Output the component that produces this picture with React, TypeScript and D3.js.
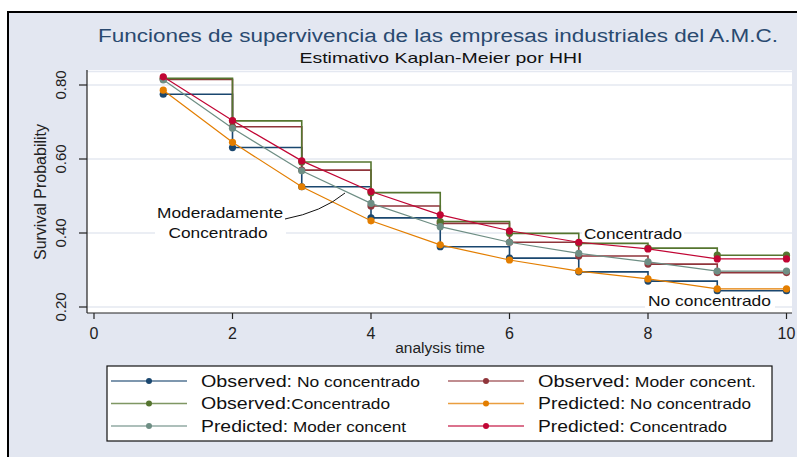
import React from "react";
import * as d3 from "d3";

const times = [1, 2, 3, 4, 5, 6, 7, 8, 9, 10];
const obsNoConc = [0.775, 0.631, 0.525, 0.441, 0.363, 0.332, 0.295, 0.27, 0.244, 0.244];
const obsModer = [0.815, 0.687, 0.57, 0.473, 0.426, 0.375, 0.338, 0.316, 0.293, 0.293];
const obsConc = [0.818, 0.703, 0.592, 0.509, 0.431, 0.399, 0.372, 0.359, 0.34, 0.34];
const predNoConc = [0.786, 0.645, 0.525, 0.433, 0.368, 0.327, 0.297, 0.276, 0.249, 0.249];
const predModer = [0.814, 0.683, 0.568, 0.48, 0.417, 0.375, 0.345, 0.322, 0.297, 0.297];
const predConc = [0.822, 0.704, 0.595, 0.512, 0.449, 0.406, 0.375, 0.357, 0.33, 0.33];

const xTicks = [0, 2, 4, 6, 8, 10];
const yTicks = [0.2, 0.4, 0.6, 0.8];

const series = [
  { key: "obsNoConc", values: obsNoConc, color: "#1a476f", step: true, head: "Observed:", rest: " No concentrado" },
  { key: "obsModer", values: obsModer, color: "#90353b", step: true, head: "Observed:", rest: "  Moder concent." },
  { key: "obsConc", values: obsConc, color: "#55752f", step: true, head: "Observed:", rest: "Concentrado" },
  { key: "predNoConc", values: predNoConc, color: "#e37e00", step: false, head: "Predicted:", rest: " No concentrado" },
  { key: "predModer", values: predModer, color: "#6e8e84", step: false, head: "Predicted:", rest: " Moder concent" },
  { key: "predConc", values: predConc, color: "#c10534", step: false, head: "Predicted:", rest: " Concentrado" },
];

const FONT = "'Liberation Sans Narrow', 'Liberation Sans', Arial, sans-serif";
const FONT2 = "'Liberation Sans', Arial, sans-serif";

export default function App() {
  const W = 797, H = 457;
  const px0 = 87, px1 = 792, py0 = 70, py1 = 313;
  const x = d3.scaleLinear().domain([0, 10]).range([94, 786.5]);
  const y = d3.scaleLinear().domain([0.2, 0.8]).range([307, 85]);

  const mk = (step: boolean) =>
    d3.line<number>()
      .x((_, i) => x(times[i]))
      .y((v) => y(v))
      .curve(step ? d3.curveStepAfter : d3.curveLinear);

  const legendPos = [
    { lx: 111, ty: 381 }, { lx: 448, ty: 381 },
    { lx: 111, ty: 403.5 }, { lx: 448, ty: 403.5 },
    { lx: 111, ty: 426 }, { lx: 448, ty: 426 },
  ];
  const legendWidths = [219, 218, 189, 213, 205, 189];

  return (
    <svg width={W} height={H} style={{ position: "absolute", left: 0, top: 0, display: "block" }}>
      <rect x={0} y={0} width={W} height={H} fill="#ffffff" />
      <rect x={8} y={12} width={800} height={460} fill="#e3e7f1" stroke="#000" strokeWidth={2} />
      {/* titles */}
      <text x={438} y={42} textAnchor="middle" fontFamily={FONT2} fontSize={18} fill="#2a4a70"
        textLength={680} lengthAdjust="spacingAndGlyphs">
        Funciones de supervivencia de las empresas industriales del A.M.C.
      </text>
      <text x={441} y={63} textAnchor="middle" fontFamily={FONT2} fontSize={14.5} fill="#111"
        textLength={283} lengthAdjust="spacingAndGlyphs">
        Estimativo Kaplan-Meier por HHI
      </text>
      {/* plot region */}
      <rect x={px0} y={py0} width={px1 - px0} height={py1 - py0} fill="#ffffff" />
      <line x1={px0} x2={px1} y1={py0 + 1.5} y2={py0 + 1.5} stroke="#e4e8f1" strokeWidth={1.5} />
      {yTicks.map((t) => (
        <line key={"g" + t} x1={px0} x2={px1} y1={y(t)} y2={y(t)} stroke="#e4e8f1" strokeWidth={1.5} />
      ))}
      {/* label backgrounds */}
      <rect x={155} y={204} width={131} height={40} fill="#fff" />
      <rect x={582} y={224} width={102} height={18} fill="#fff" />
      <rect x={645} y={291} width={130} height={19} fill="#fff" />
      {/* series */}
      {series.map((s) => (
        <g key={s.key}>
          <path d={mk(s.step)(s.values) || ""} fill="none" stroke={s.color} strokeWidth={s.step ? 1.6 : 1.2} />
          {s.values.map((v, i) => (
            <circle key={i} cx={x(times[i])} cy={y(v)} r={3.6} fill={s.color} />
          ))}
        </g>
      ))}
      {/* annotations */}
      <text x={220} y={218} textAnchor="middle" fontFamily={FONT2} fontSize={14.5} fill="#111"
        textLength={126} lengthAdjust="spacingAndGlyphs">Moderadamente</text>
      <text x={218} y={238} textAnchor="middle" fontFamily={FONT2} fontSize={14.5} fill="#111"
        textLength={99} lengthAdjust="spacingAndGlyphs">Concentrado</text>
      <path d="M285,219 Q322,212 345,193" fill="none" stroke="#111" strokeWidth={1} />
      <text x={633} y={238.5} textAnchor="middle" fontFamily={FONT2} fontSize={14.5} fill="#111"
        textLength={98} lengthAdjust="spacingAndGlyphs">Concentrado</text>
      <text x={709.5} y={305.5} textAnchor="middle" fontFamily={FONT2} fontSize={14.5} fill="#111"
        textLength={123} lengthAdjust="spacingAndGlyphs">No concentrado</text>
      {/* axes */}
      <line x1={px0} x2={px0} y1={py0} y2={py1} stroke="#222" strokeWidth={1.2} />
      <line x1={px0} x2={px1} y1={py1} y2={py1} stroke="#222" strokeWidth={1.2} />
      {yTicks.map((t) => (
        <g key={"yt" + t}>
          <line x1={79} x2={px0} y1={y(t)} y2={y(t)} stroke="#222" strokeWidth={1.2} />
          <text transform={`translate(66,${y(t)}) rotate(-90)`} textAnchor="middle" fontFamily={FONT}
            fontSize={15} fill="#222">{t.toFixed(2)}</text>
        </g>
      ))}
      {xTicks.map((t) => (
        <g key={"xt" + t}>
          <line x1={x(t)} x2={x(t)} y1={py1} y2={py1 + 6} stroke="#222" strokeWidth={1.2} />
          <text x={x(t)} y={339} textAnchor="middle" fontFamily={FONT} fontSize={16} fill="#222">{t}</text>
        </g>
      ))}
      <text transform={`translate(46,192) rotate(-90)`} textAnchor="middle" fontFamily={FONT2} fontSize={16}
        fill="#222">Survival Probability</text>
      <text x={440} y={353} textAnchor="middle" fontFamily={FONT2} fontSize={15.5} fill="#222">analysis time</text>
      {/* legend */}
      <rect x={107} y={366} width={665} height={75} fill="#fff" stroke="#111" strokeWidth={1.2} />
      {series.map((s, i) => {
        const p = legendPos[i];
        return (
          <g key={"lg" + s.key}>
            <line x1={p.lx} x2={p.lx + 76} y1={p.ty} y2={p.ty} stroke={s.color} strokeWidth={1.5} opacity={0.75} />
            <circle cx={p.lx + 38} cy={p.ty} r={3} fill={s.color} />
            <text x={p.lx + 90} y={p.ty + 5.5} fontFamily={FONT} fontSize={15} fill="#111"
              textLength={legendWidths[i]} lengthAdjust="spacingAndGlyphs">
              <tspan fontSize={17}>{s.head}</tspan>
              <tspan>{s.rest}</tspan>
            </text>
          </g>
        );
      })}
    </svg>
  );
}
